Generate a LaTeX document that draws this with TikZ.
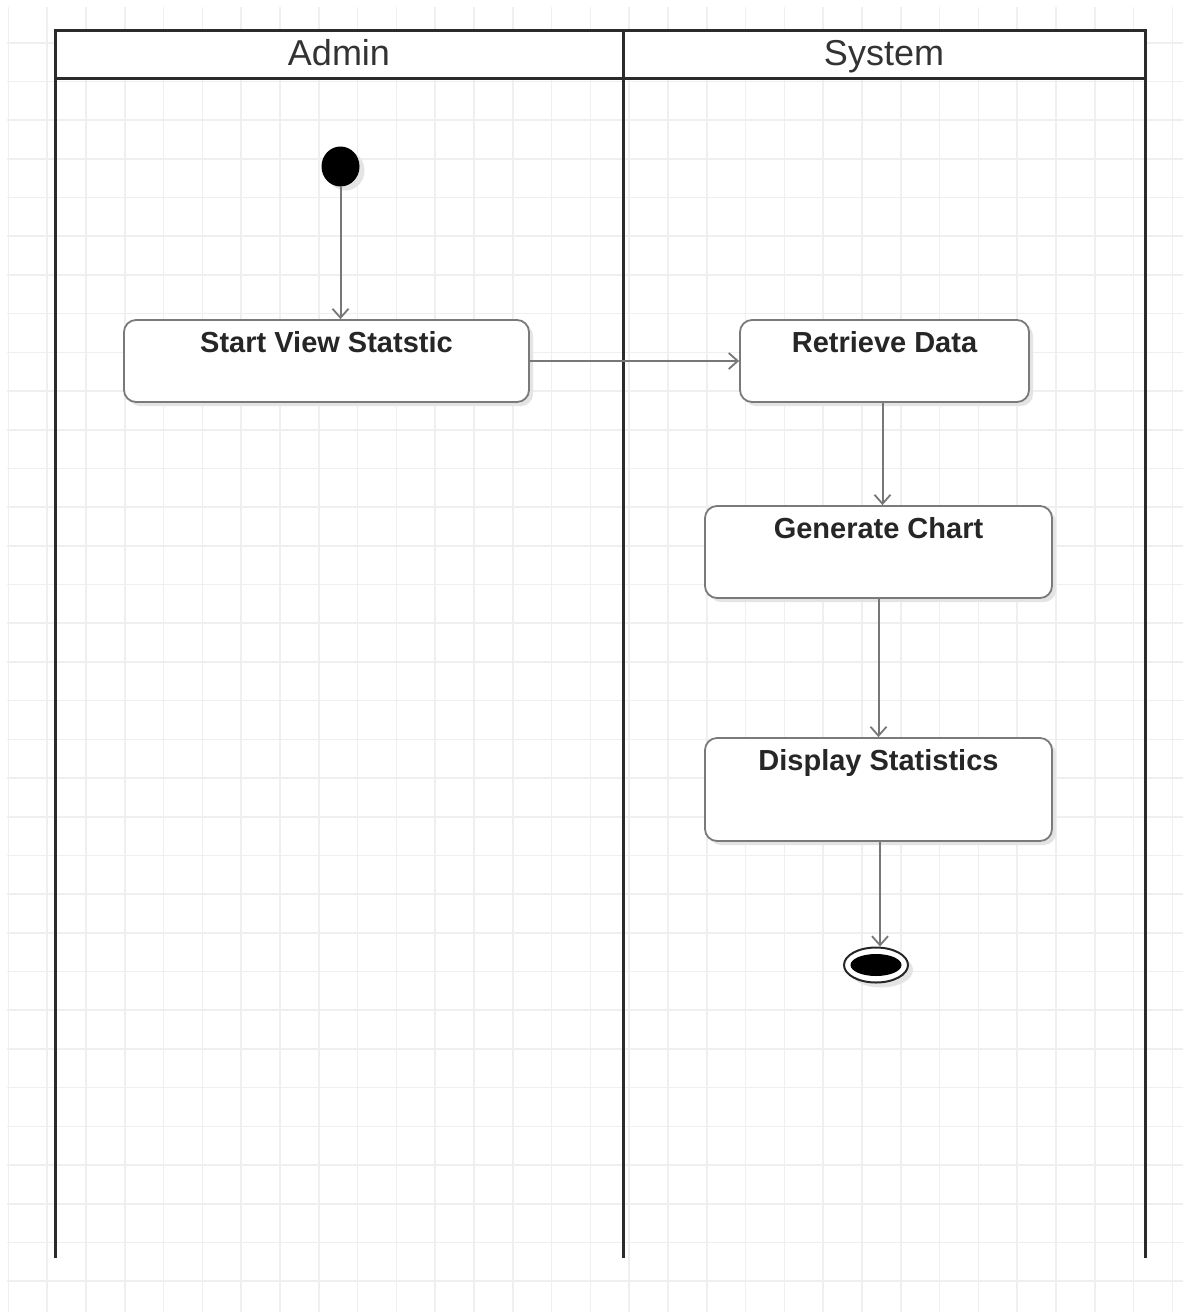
\documentclass[tikz,border=0pt]{standalone}
\usepackage{fontspec}
\setmainfont{Liberation Sans}
\usetikzlibrary{arrows.meta,shapes.geometric,shadows,calc}
\definecolor{gridline}{HTML}{EFEFEF}
\definecolor{laneline}{HTML}{2B2B2B}
\definecolor{boxline}{HTML}{7A7A7A}
\definecolor{flowline}{HTML}{777777}
\definecolor{headtext}{HTML}{333333}
\definecolor{shade}{HTML}{E4E4E4}
\tikzset{
  lane/.style={draw=laneline,line width=3pt},
  headlabel/.style={font=\fontsize{36}{40}\selectfont,text=headtext,inner sep=0pt,anchor=base},
  actbox/.style={draw=boxline,line width=1.8pt,fill=white,rounded corners=12pt,
    inner sep=0pt,drop shadow={shadow xshift=4pt,shadow yshift=-4pt,fill=shade,opacity=1}},
  acttext/.style={font=\bfseries\fontsize{29}{32}\selectfont,text=black!85,inner sep=0pt,anchor=base},
  flow/.style={draw=flowline,line width=2pt,-{Straight Barb[length=9pt,width=16pt,line width=1.8pt]}},
  startdot/.style={ellipse,fill=black,minimum width=38pt,minimum height=40pt,inner sep=0pt,
    drop shadow={shadow xshift=5pt,shadow yshift=-4pt,fill=shade,opacity=1}},
  enddot/.style={ellipse,draw=black!85,line width=2pt,fill=white,minimum width=64pt,minimum height=35pt,inner sep=0pt,
    drop shadow={shadow xshift=5pt,shadow yshift=-5pt,fill=shade,opacity=1}},
  endcore/.style={ellipse,fill=black,minimum width=51pt,minimum height=22pt,inner sep=0pt}
}
\begin{document}
\begin{tikzpicture}[x=1pt,y=-1pt]
  % canvas and background grid
  \fill[white] (0,0) rectangle (1183,1312);
  \useasboundingbox (0,0) rectangle (1183,1312);
  \foreach \k in {0,...,30} {
    \draw[gridline,line width=1.6pt] ({8.3+38.8*\k},7) -- ({8.3+38.8*\k},1312);
  }
  \foreach \k in {0,...,32} {
    \draw[gridline,line width=1.6pt] (7,{42.7+38.7*\k}) -- (1183,{42.7+38.7*\k});
  }

  % swimlane pool
  \fill[white] (55,30) rectangle (1145,78);
  \draw[lane] (55,1258) -- (55,30) -- (1145,30) -- (1145,1258);
  \draw[lane] (623,30) -- (623,1258);
  \draw[lane] (55,78) -- (1145,78);
  \node[headlabel] (hAdmin) at (339,65) {Admin};
  \node[headlabel] (hSystem) at (884,65) {System};

  % initial node
  \node[startdot] (start) at (340.5,166.5) {};

  % actions
  \node[actbox,minimum width=405pt,minimum height=82pt] (b1) at (326.5,361) {};
  \node[actbox,minimum width=289pt,minimum height=82pt] (b2) at (884.5,361) {};
  \node[actbox,minimum width=347pt,minimum height=92pt] (b3) at (878.5,552) {};
  \node[actbox,minimum width=347pt,minimum height=103pt] (b4) at (878.5,789.5) {};
  \node[acttext] (t1) at ($(b1.north)+(0,33)$) {Start View Statstic};
  \node[acttext] (t2) at ($(b2.north)+(0,33)$) {Retrieve Data};
  \node[acttext] (t3) at ($(b3.north)+(0,33)$) {Generate Chart};
  \node[acttext] (t4) at ($(b4.north)+(0,33)$) {Display Statistics};

  % final node
  \node[enddot] (end) at (876,965) {};
  \node[endcore] (endin) at (end.center) {};

  % control flow
  \draw[flow] (start.south) -- (start.south |- b1.north);
  \draw[flow] (b1.east) -- (b2.west);
  \draw[flow] ([xshift=-2pt]b2.south) -- ([xshift=-2pt]b2.south |- b3.north);
  \draw[flow] (b3.south) -- (b4.north);
  \draw[flow] ([xshift=1.5pt]b4.south) -- ([xshift=1.5pt]b4.south |- end.north);
\end{tikzpicture}
\end{document}
